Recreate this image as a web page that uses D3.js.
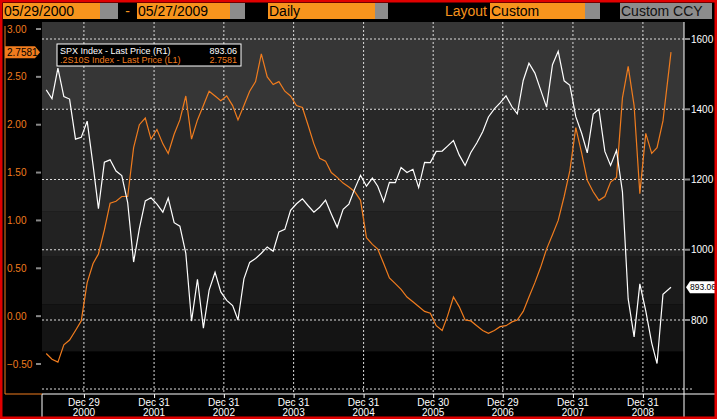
<!DOCTYPE html>
<html>
<head>
<meta charset="utf-8">
<script src="https://cdn.jsdelivr.net/npm/d3@7"></script>
<style>
  body { margin: 0; background: #000; }
  text { font-family: "Liberation Sans Narrow", "Arial Narrow", "Liberation Sans", sans-serif; }
</style>
</head>
<body>
<div id="chart"></div>
<script>
// monthly values, Jun 2000 .. May 2009
const spx = [
  1455, 1430, 1517, 1436, 1429, 1315, 1320,
  1366, 1240, 1117, 1249, 1256, 1224, 1211, 1134, 965, 1060, 1139, 1148,
  1130, 1107, 1147, 1077, 1067, 990, 797, 916, 777, 885, 936, 880,
  856, 841, 800, 917, 964, 975, 990, 1008, 996, 1051, 1058, 1112,
  1131, 1145, 1126, 1107, 1121, 1141, 1102, 1064, 1115, 1130, 1174, 1212,
  1181, 1204, 1181, 1137, 1192, 1191, 1234, 1220, 1229, 1177, 1249, 1248,
  1280, 1281, 1295, 1311, 1270, 1240, 1277, 1304, 1336, 1378, 1401, 1418,
  1438, 1407, 1387, 1482, 1531, 1503, 1455, 1406, 1527, 1565, 1481, 1468,
  1379, 1331, 1276, 1386, 1400, 1280, 1240, 1283, 1165, 860, 752, 903,
  826, 735, 676, 873, 893.06
];
const spread = [
  -0.39, -0.45, -0.48, -0.30, -0.25, -0.15, -0.05,
  0.35, 0.55, 0.65, 0.90, 1.18, 1.20, 1.25, 1.25, 1.76, 2.00, 2.07, 1.85,
  1.95, 1.80, 1.70, 1.90, 2.05, 2.30, 1.85, 2.05, 2.20, 2.35, 2.30, 2.25,
  2.30, 2.20, 2.05, 2.20, 2.35, 2.45, 2.74, 2.50, 2.42, 2.45, 2.35, 2.30,
  2.20, 2.18, 2.00, 1.80, 1.65, 1.62, 1.50, 1.45, 1.39, 1.35, 1.30, 1.21,
  0.82, 0.75, 0.70, 0.55, 0.40, 0.34, 0.28, 0.20, 0.15, 0.10, 0.05, 0.03,
  -0.10, -0.15, 0.00, 0.20, 0.10, -0.04, -0.05, -0.10, -0.15, -0.18, -0.15, -0.11,
  -0.10, -0.06, -0.04, 0.05, 0.20, 0.35, 0.51, 0.70, 0.85, 1.00, 1.25, 1.52,
  1.97, 1.70, 1.42, 1.30, 1.21, 1.25, 1.40, 1.45, 2.28, 2.61, 2.20, 1.28,
  1.91, 1.70, 1.76, 2.04, 2.7581
];
const leftTicks = [3.00, 2.50, 2.00, 1.50, 1.00, 0.50, 0.00, -0.50];
const rightTicks = [1600, 1400, 1200, 1000, 800];
const bandEdges = [1400, 1110, 980, 845, 710];
const bandColors = ["#363636", "#282828", "#222222", "#1b1b1b", "#141414", "#000000"];
const xTickDates = ["2000-12-29", "2001-12-31", "2002-12-31", "2003-12-31", "2004-12-31",
                    "2005-12-30", "2006-12-29", "2007-12-31", "2008-12-31"];
const headerBoxes = [
  {x: 3, w: 97, fill: "#f7941d", text: "05/29/2000", color: "#000", anchor: "start"},
  {x: 100, w: 18, fill: "#8c8c8c"},
  {x: 118, w: 19, fill: "#000", text: "-", color: "#f7941d", anchor: "middle"},
  {x: 137, w: 93, fill: "#f7941d", text: "05/27/2009", color: "#000", anchor: "start"},
  {x: 230, w: 15, fill: "#8c8c8c"},
  {x: 245, w: 23, fill: "#000"},
  {x: 268, w: 107, fill: "#f7941d", text: "Daily", color: "#000", anchor: "start"},
  {x: 375, w: 13, fill: "#8c8c8c"},
  {x: 388, w: 102, fill: "#000", text: "Layout", color: "#f7941d", anchor: "end"},
  {x: 490, w: 95, fill: "#f7941d", text: "Custom", color: "#000", anchor: "start"},
  {x: 585, w: 15, fill: "#8c8c8c"},
  {x: 600, w: 20, fill: "#000"},
  {x: 620, w: 92, fill: "#8c8c8c", text: "Custom CCY", color: "#111", anchor: "start"}
];

const W = 717, H = 419;
const svg = d3.select("#chart").append("svg").attr("width", W).attr("height", H);
svg.append("rect").attr("width", W).attr("height", H).attr("fill", "#000");

const dates = spx.map((d, i) => i === spx.length - 1 ? new Date(2009, 4, 27) : new Date(2000, 5 + i, 15));
const x = d3.scaleTime().domain([new Date(2000, 4, 29), new Date(2009, 7, 3)]).range([43, 684]);
const yL = d3.scaleLinear().domain([-0.5, 3.0]).range([364, 29]);
const yR = d3.scaleLinear().domain([800, 1600]).range([320, 39]);
const plotTop = 22, plotBottom = 394, plotLeft = 42, plotRight = 684;

// background bands
const edges = [yR.invert(plotTop)].concat(bandEdges).concat([yR.invert(plotBottom)]);
bandColors.forEach((c, i) => {
  const y0 = Math.max(plotTop, yR(edges[i])), y1 = Math.min(plotBottom, yR(edges[i + 1]));
  svg.append("rect").attr("x", plotLeft).attr("y", y0).attr("width", plotRight - plotLeft)
    .attr("height", Math.max(0, y1 - y0)).attr("fill", c);
});

// grid
const tickDates = xTickDates.map(d3.timeParse("%Y-%m-%d"));
svg.selectAll(".vg").data(tickDates).enter().append("line")
  .attr("x1", d => x(d)).attr("x2", d => x(d)).attr("y1", plotTop).attr("y2", plotBottom)
  .attr("stroke", "#ddd").attr("stroke-width", 1).attr("stroke-dasharray", "2,2");
svg.selectAll(".hg").data(rightTicks).enter().append("line")
  .attr("x1", plotLeft).attr("x2", plotRight).attr("y1", d => yR(d)).attr("y2", d => yR(d))
  .attr("stroke", "#ddd").attr("stroke-dasharray", "2,2");
svg.append("line").attr("x1", plotLeft).attr("x2", plotRight + 8).attr("y1", 389).attr("y2", 389)
  .attr("stroke", "#ddd").attr("stroke-dasharray", "2,2");

// lines
svg.append("path").datum(spread.map((v, i) => [dates[i], v]))
  .attr("d", d3.line().x(d => x(d[0])).y(d => yL(d[1])))
  .attr("fill", "none").attr("stroke", "#f07c1e").attr("stroke-width", 1.2);
svg.append("path").datum(spx.map((v, i) => [dates[i], v]))
  .attr("d", d3.line().x(d => x(d[0])).y(d => yR(d[1])))
  .attr("fill", "none").attr("stroke", "#fff").attr("stroke-width", 1.2);

// frame lines
svg.append("line").attr("x1", plotRight).attr("x2", plotRight).attr("y1", plotTop).attr("y2", H)
  .attr("stroke", "#fff");
svg.append("line").attr("x1", plotLeft).attr("x2", W).attr("y1", plotBottom).attr("y2", plotBottom)
  .attr("stroke", "#fff");
svg.append("line").attr("x1", plotLeft).attr("x2", plotLeft).attr("y1", plotBottom).attr("y2", H)
  .attr("stroke", "#fff");
svg.append("path").attr("d", `M5,26V${plotBottom}H${plotLeft}`).attr("fill", "none").attr("stroke", "#f07c1e");

// x axis
const xAxis = svg.append("g").attr("transform", `translate(0,${plotBottom})`)
  .call(d3.axisBottom(x).tickValues(tickDates).tickSize(4).tickFormat(""));
xAxis.select(".domain").remove();
xAxis.selectAll("line").attr("stroke", "#fff");
svg.selectAll(".xl").data(tickDates).enter().append("text")
  .attr("x", d => x(d)).attr("y", 406).attr("text-anchor", "middle")
  .attr("fill", "#fff").attr("font-size", 10).text(d => d3.timeFormat("%b %d")(d));
svg.selectAll(".xl2").data(tickDates).enter().append("text")
  .attr("x", d => x(d)).attr("y", 416).attr("text-anchor", "middle")
  .attr("fill", "#fff").attr("font-size", 10).text(d => d3.timeFormat("%Y")(d));

// left axis labels
svg.selectAll(".ll").data(leftTicks).enter().append("text")
  .attr("x", 7).attr("y", d => yL(d) + 3.5).attr("fill", "#f07c1e").attr("font-size", 10)
  .text(d => d3.format(".2f")(d));
svg.selectAll(".lt").data(leftTicks).enter().append("line")
  .attr("x1", 36).attr("x2", 41).attr("y1", d => yL(d)).attr("y2", d => yL(d))
  .attr("stroke", "#888").attr("stroke-width", 2);
const lastL = yL(spread[spread.length - 1]);
svg.append("path").attr("d", `M5,${lastL - 6}H35L40,${lastL}L35,${lastL + 6}H5Z`).attr("fill", "#f07c1e");
svg.append("text").attr("x", 7).attr("y", lastL + 3.5).attr("fill", "#000").attr("font-size", 10)
  .text(d3.format(".4f")(spread[spread.length - 1]));

// right axis labels
svg.selectAll(".rt").data(rightTicks).enter().append("line")
  .attr("x1", plotRight).attr("x2", plotRight + 6).attr("y1", d => yR(d)).attr("y2", d => yR(d))
  .attr("stroke", "#888").attr("stroke-width", 2);
svg.selectAll(".rl").data(rightTicks).enter().append("text")
  .attr("x", plotRight + 7).attr("y", d => yR(d) + 3.5).attr("fill", "#fff").attr("font-size", 10)
  .text(d => d);
const lastR = yR(spx[spx.length - 1]);
svg.append("path").attr("d", `M${plotRight + 2},${lastR}L${plotRight + 6},${lastR - 6}H716V${lastR + 6}H${plotRight + 6}Z`)
  .attr("fill", "#fff");
svg.append("text").attr("x", plotRight + 6).attr("y", lastR + 3).attr("fill", "#000").attr("font-size", 8.5)
  .attr("textLength", 26).attr("lengthAdjust", "spacingAndGlyphs")
  .text(d3.format(".2f")(spx[spx.length - 1]));

// legend
svg.append("rect").attr("x", 57).attr("y", 44).attr("width", 184).attr("height", 22)
  .attr("fill", "#000").attr("stroke", "#fff");
svg.append("text").attr("x", 60).attr("y", 54).attr("fill", "#fff").attr("font-size", 9)
  .text("SPX Index - Last Price (R1)");
svg.append("text").attr("x", 237).attr("y", 54).attr("fill", "#fff").attr("font-size", 9)
  .attr("text-anchor", "end").text(d3.format(".2f")(spx[spx.length - 1]));
svg.append("text").attr("x", 60).attr("y", 63).attr("fill", "#f07c1e").attr("font-size", 9)
  .text(".2S10S Index - Last Price (L1)");
svg.append("text").attr("x", 237).attr("y", 63).attr("fill", "#f07c1e").attr("font-size", 9)
  .attr("text-anchor", "end").text(d3.format(".4f")(spread[spread.length - 1]));

// header
svg.append("rect").attr("width", W).attr("height", 21).attr("fill", "#000");
headerBoxes.forEach(b => {
  svg.append("rect").attr("x", b.x).attr("y", 3).attr("width", b.w).attr("height", 16).attr("fill", b.fill);
  if (b.text) {
    const tx = b.anchor === "start" ? b.x + 1 : b.anchor === "end" ? b.x + b.w - 3 : b.x + b.w / 2;
    svg.append("text").attr("x", tx).attr("y", 16).attr("text-anchor", b.anchor)
      .attr("fill", b.color).attr("font-size", 14).text(b.text);
  }
});
// red border
svg.append("rect").attr("x", 1).attr("y", 1).attr("width", W - 2).attr("height", H - 2)
  .attr("fill", "none").attr("stroke", "#e00000").attr("stroke-width", 3);
</script>
</body>
</html>
